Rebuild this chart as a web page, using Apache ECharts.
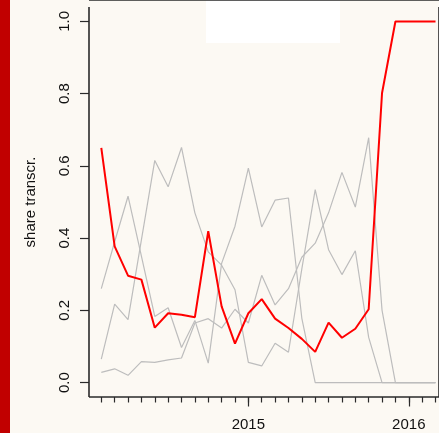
<!DOCTYPE html>
<html><head><meta charset="utf-8">
<script src="https://cdn.jsdelivr.net/npm/echarts@6/dist/echarts.min.js"></script>
<style>
html,body{margin:0;padding:0;background:#fcf9f3}
#wrap{position:relative;width:439px;height:433px}
#c{position:absolute;left:0;top:0;width:439px;height:433px}
#bar{position:absolute;left:0;top:0;width:10px;height:433px;background:#c10000}
#box{position:absolute;left:206px;top:0;width:134px;height:43px;background:#ffffff}
</style>
</head><body><div id="wrap"><div id="bar"></div><div id="box"></div><div id="c"></div></div>
<script>
// Months (x categories)
const months = ['2014-02','2014-03','2014-04','2014-05','2014-06','2014-07','2014-08','2014-09','2014-10','2014-11','2014-12',
  '2015-01','2015-02','2015-03','2015-04','2015-05','2015-06','2015-07','2015-08','2015-09','2015-10','2015-11','2015-12',
  '2016-01','2016-02','2016-03'];
// Highlighted series (red)
const redSeries = [0.65,0.377,0.296,0.285,0.152,0.192,0.188,0.181,0.419,0.211,0.108,0.192,0.231,0.177,0.151,0.121,0.085,0.166,0.124,0.149,0.203,0.802,1,1,1,1];
// Other series (grey)
const greyA = [0.26,0.39,0.516,0.35,0.183,0.207,0.097,0.172,0.054,0.33,0.433,0.594,0.431,0.505,0.511,0.178,0,0,0,0,0,0,0,0,0,0];
const greyB = [0.065,0.217,0.174,0.395,0.615,0.542,0.651,0.47,0.362,0.325,0.257,0.056,0.046,0.109,0.084,0.315,0.534,0.368,0.299,0.365,0.125,0,0,0,0,0];
const greyC = [0.028,0.038,0.02,0.058,0.056,0.063,0.068,0.165,0.177,0.151,0.203,0.165,0.297,0.215,0.26,0.347,0.386,0.47,0.582,0.486,0.678,0.2,0,0,0,0];
// Y tick values and labels
const yTicks = [0,0.2,0.4,0.6,0.8,1.0];
const yTickLabels = ['0.0','0.2','0.4','0.6','0.8','1.0'];
const yTitle = 'share transcr.';

const idx = months.map((m,i)=>i);
const yearIdx = idx.filter(i => months[i].endsWith('-01'));
const toPairs = arr => arr.map((v,i)=>[i,v]);

// layout of the main plot region (R-style 4% padding around data range)
const W = 439, H = 433;
const G = {left:89, top:7, right:0, bottom:36};
const xMin = -0.92, xMax = 25.26, yMin = -0.04, yMax = 1.04;
const tickLen = 9;
const pxX = (W - G.left - G.right) / (xMax - xMin);
const pxY = (H - G.top - G.bottom) / (yMax - yMin);
const xPos = v => G.left + (v - xMin) * pxX;
const yTop = G.top + (yMax - yTicks[yTicks.length-1]) * pxY;
const yBottom = G.bottom + (yTicks[0] - yMin) * pxY;
const grids = [
  G,                                                                         // 0 plot
  {left:G.left - tickLen, right:W - G.left, top:yTop, bottom:yBottom},       // 1 y tick marks
  {left:xPos(idx[0]), right:W - xPos(idx[idx.length-1]), top:G.top, bottom:G.bottom},            // 2 month ticks
  {left:xPos(yearIdx[0]), right:W - xPos(yearIdx[yearIdx.length-1]), top:G.top, bottom:G.bottom}, // 3 year ticks
  {left:G.left, right:G.right, top:yTop, bottom:yBottom},                    // 4 y labels + title
  {left:G.left, right:-3, top:G.top, bottom:G.bottom},                       // 5 y axis line
  {left:G.left, right:-3, top:-3, bottom:G.bottom}                           // 6 x axis line
];

const chart = echarts.init(document.getElementById('c'));
const axisColor = '#2a2a2a';
const font = 'Liberation Sans, Arial, Helvetica, sans-serif';
const hidden = gi => ({type:'value', gridIndex:gi, show:false, min:0, max:1});
const off = {axisLine:{show:false, onZero:false}, axisTick:{show:false}, axisLabel:{show:false}, splitLine:{show:false}};

chart.setOption({
  animation:false,
  grid:grids,
  xAxis:[
    Object.assign({type:'value', gridIndex:0, min:xMin, max:xMax}, off),
    hidden(1),
    {
      type:'value', gridIndex:2, min:idx[0], max:idx[idx.length-1], interval:1,
      axisLine:{show:false, onZero:false},
      axisTick:{show:true, length:5.5, lineStyle:{color:axisColor, width:1.2}},
      axisLabel:{show:false}, splitLine:{show:false}
    },{
      type:'value', gridIndex:3, min:0, max:yearIdx[yearIdx.length-1]-yearIdx[0], interval:yearIdx[1]-yearIdx[0],
      axisLine:{show:false, onZero:false},
      axisTick:{show:true, length:9.5, lineStyle:{color:axisColor, width:1.2}},
      axisLabel:{show:true, fontSize:15, color:'#111', fontFamily:font, margin:20,
        formatter:v=>months[yearIdx[0] + Math.round(v)].slice(0,4)},
      splitLine:{show:false}
    },
    hidden(4),
    {
      type:'value', gridIndex:5, min:0, max:1, interval:1,
      axisLine:{show:false, onZero:false}, axisTick:{show:false}, axisLabel:{show:false},
      splitLine:{show:true, showMinLine:true, showMaxLine:true, lineStyle:{color:axisColor, width:1.6}}
    },
    hidden(6)
  ],
  yAxis:[
    Object.assign({type:'value', gridIndex:0, min:yMin, max:yMax}, off),
    {
      type:'value', gridIndex:1, min:yTicks[0], max:yTicks[yTicks.length-1], interval:yTicks[1]-yTicks[0],
      axisLine:{show:false, onZero:false}, axisTick:{show:false}, axisLabel:{show:false},
      splitLine:{show:true, showMinLine:true, showMaxLine:true, lineStyle:{color:axisColor, width:1.2}}
    },
    hidden(2), hidden(3),
    {
      type:'value', gridIndex:4, min:yTicks[0], max:yTicks[yTicks.length-1], interval:yTicks[1]-yTicks[0],
      axisLine:{show:false, onZero:false}, axisTick:{show:false},
      axisLabel:{show:true, rotate:90, fontSize:15, color:'#111', fontFamily:font, margin:17,
        formatter:v=>yTickLabels[yTicks.findIndex(t=>Math.abs(t-v)<1e-6)]},
      splitLine:{show:false},
      name:yTitle, nameLocation:'middle', nameGap:51,
      nameTextStyle:{fontSize:15, color:'#111', fontFamily:font}
    },
    hidden(5),
    {
      type:'value', gridIndex:6, min:0, max:1, interval:1,
      axisLine:{show:false, onZero:false}, axisTick:{show:false}, axisLabel:{show:false},
      splitLine:{show:true, showMinLine:true, showMaxLine:true, lineStyle:{color:axisColor, width:1.6}}
    }
  ],
  series:[
    {type:'line', xAxisIndex:0, yAxisIndex:0, data:toPairs(greyA), symbol:'none', lineStyle:{color:'#bdbdbd', width:1.2}},
    {type:'line', xAxisIndex:0, yAxisIndex:0, data:toPairs(greyB), symbol:'none', lineStyle:{color:'#bdbdbd', width:1.2}},
    {type:'line', xAxisIndex:0, yAxisIndex:0, data:toPairs(greyC), symbol:'none', lineStyle:{color:'#bdbdbd', width:1.2}},
    {type:'line', xAxisIndex:0, yAxisIndex:0, data:toPairs(redSeries), symbol:'none', lineStyle:{color:'#ff0000', width:2}}
  ]
});
</script></body></html>
